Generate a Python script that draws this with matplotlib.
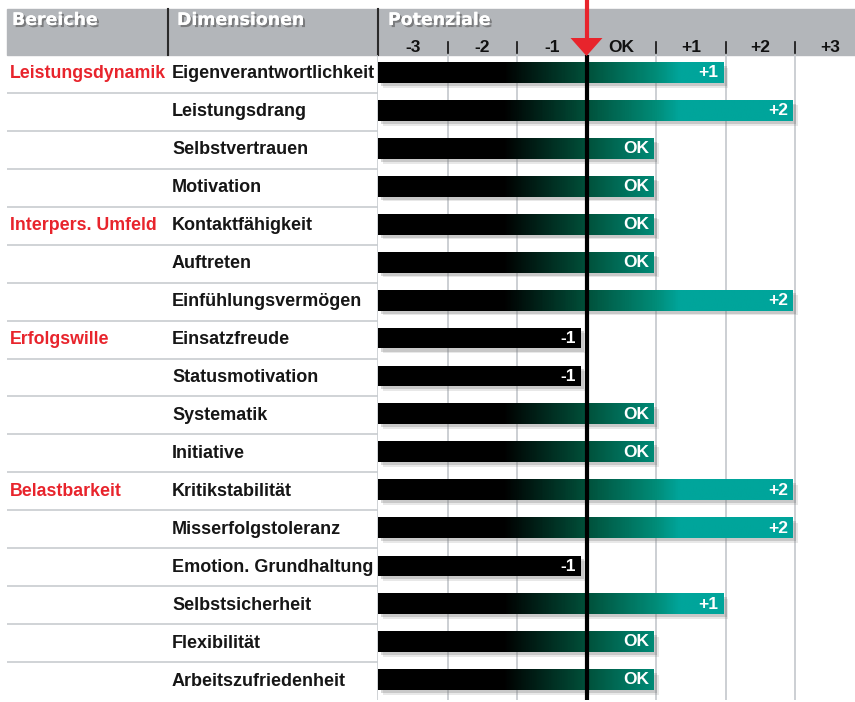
import numpy as np
import matplotlib
matplotlib.use("Agg")
import matplotlib.pyplot as plt
from matplotlib.colors import LinearSegmentedColormap
from matplotlib.patches import Rectangle, Polygon
from matplotlib.lines import Line2D
import matplotlib.transforms as mtransforms
import matplotlib.patheffects as pe

plt.rcParams['font.family'] = ['Liberation Sans', 'DejaVu Sans']

# Daten
bereiche = ['Leistungsdynamik', '', '', '', 'Interpers. Umfeld', '', '', 'Erfolgswille',
            '', '', '', 'Belastbarkeit', '', '', '', '', '']
dimensionen = ['Eigenverantwortlichkeit', 'Leistungsdrang', 'Selbstvertrauen', 'Motivation',
               'Kontaktfähigkeit', 'Auftreten', 'Einfühlungsvermögen', 'Einsatzfreude',
               'Statusmotivation', 'Systematik', 'Initiative', 'Kritikstabilität',
               'Misserfolgstoleranz', 'Emotion. Grundhaltung', 'Selbstsicherheit',
               'Flexibilität', 'Arbeitszufriedenheit']
werte = [1, 2, 0, 0, 0, 0, 2, -1, -1, 0, 0, 2, 2, -1, 1, 0, 0]
skala = ['-3', '-2', '-1', 'OK', '+1', '+2', '+3']
skala_pos = [-3, -2, -1, 0, 1, 2, 3]

W, H = 855, 702
fig = plt.figure(figsize=(W / 100, H / 100), dpi=100)

def fx(px):
    return px / W

def fy(py):
    return 1 - py / H

red = '#e8242c'
grid_col = '#c8ccd0'
teal = (0 / 255, 165 / 255, 155 / 255)

# Kopfzeile (Hintergrund)
fig.patches.append(Rectangle((fx(7), fy(55)), fx(W - 7), (55 - 9) / H,
                             transform=fig.transFigure, color='#b3b6ba', zorder=0))
for px in [168, 378]:
    fig.lines.append(Line2D([fx(px), fx(px)], [fy(9), fy(55)], transform=fig.transFigure,
                            color='#2a2a2a', lw=1.5, zorder=0.5))
shadow = [pe.withSimplePatchShadow(offset=(1.5, -1.5), shadow_rgbFace='#555555', alpha=0.6),
          pe.Normal()]
for txt, px in [('Bereiche', 12), ('Dimensionen', 177), ('Potenziale', 388)]:
    fig.text(fx(px), fy(20), txt, color='white', fontsize=12.5, fontweight='bold',
             family=['DejaVu Sans'], va='center', ha='left', path_effects=shadow, zorder=1)

# Hauptachse fuer die Balken
ax = fig.add_axes([fx(378), fy(700), fx(W - 378), (700 - 55) / H])
ax.set_zorder(3)
ax.axis('off')

# Farbverlauf ueber x (schwarz -> dunkelgruen -> petrol)
lo, hi = -3.5, 3.5
knoten = [(-3.5, (0, 0, 0)), (-1.7, (0, 0, 0)), (-0.5, (0, 80 / 255, 58 / 255)),
          (0.5, (0, 140 / 255, 120 / 255)), (0.85, teal), (3.5, teal)]
cmap = LinearSegmentedColormap.from_list(
    'pot', [((x - lo) / (hi - lo), c) for x, c in knoten])

# Gitterlinien
for gx in [-2.5, -1.5, 0.5, 1.5, 2.5]:
    ax.axvline(gx, color=grid_col, lw=1.3, zorder=0)
ax.axvline(-0.5, color='black', lw=3, zorder=4)

bh = 0.53
for i, v in enumerate(werte):
    end = v + 0.47 if v >= 0 else v + 0.42
    y0 = i - 0.03 - bh / 2
    # Schatten
    for k, a in [(0.07, 0.18), (0.045, 0.3)]:
        ax.add_patch(Rectangle((-3.5 + k, y0 + k * 1.8), end + 3.5, bh,
                               color='#808080', alpha=a, lw=0, zorder=1))
    if v < 0:
        ax.add_patch(Rectangle((-3.5, y0), end + 3.5, bh, color='black', lw=0, zorder=2))
    else:
        xs = np.linspace(-3.5, end, 400)
        img = cmap((xs - lo) / (hi - lo))[None, :, :3]
        ax.imshow(img, extent=(-3.5, end, y0 + bh, y0), aspect='auto',
                  interpolation='bilinear', zorder=2)
    ax.text(end - 0.07, i - 0.03, skala[v + 3], color='white', fontsize=12.5,
            fontweight='bold', ha='right', va='center', zorder=5)

ax.set_xlim(-3.5, -3.5 + (W - 378) / 69.5)
ax.set_ylim(len(werte) - 0.5, -0.5)

trans = mtransforms.blended_transform_factory(ax.transData, ax.transAxes)
def ay(py):
    return (700 - py) / 645

for p, s in zip(skala_pos, skala):
    ax.text(p, ay(47), s, transform=trans, ha='center', va='center', fontsize=12.5,
            fontweight='bold', color='#111111', clip_on=False)
for gx in [-2.5, -1.5, 0.5, 1.5, 2.5]:
    ax.add_line(Line2D([gx, gx], [ay(42), ay(53)], transform=trans, color='#111111',
                       lw=1.2, clip_on=False))

# roter Pfeil
ax.add_line(Line2D([-0.5, -0.5], [ay(0), ay(40)], transform=trans, color=red, lw=3,
                   clip_on=False, zorder=6))
ax.add_patch(Polygon([(-0.73, ay(38)), (-0.27, ay(38)), (-0.5, ay(56))], closed=True,
                     transform=trans, color=red, lw=0, clip_on=False, zorder=6))

# linke Tabelle
axl = fig.add_axes([fx(7), fy(700), fx(378 - 7), (700 - 55) / H])
axl.set_zorder(2)
axl.set_xlim(7, 378)
axl.set_ylim(len(werte) - 0.5, -0.5)
axl.axis('off')
axl.hlines(np.arange(len(werte) - 1) + 0.5, 7, 378, color=grid_col, lw=1.2)
axl.axvline(377.5, color=grid_col, lw=1.2)
for i, (b, d) in enumerate(zip(bereiche, dimensionen)):
    if b:
        axl.text(10, i, b, color=red, fontsize=12.8, fontweight='bold', va='center', ha='left')
    axl.text(172, i, d, color='#161616', fontsize=13, fontweight='bold', va='center', ha='left')

fig.savefig('out.png', dpi=100)
